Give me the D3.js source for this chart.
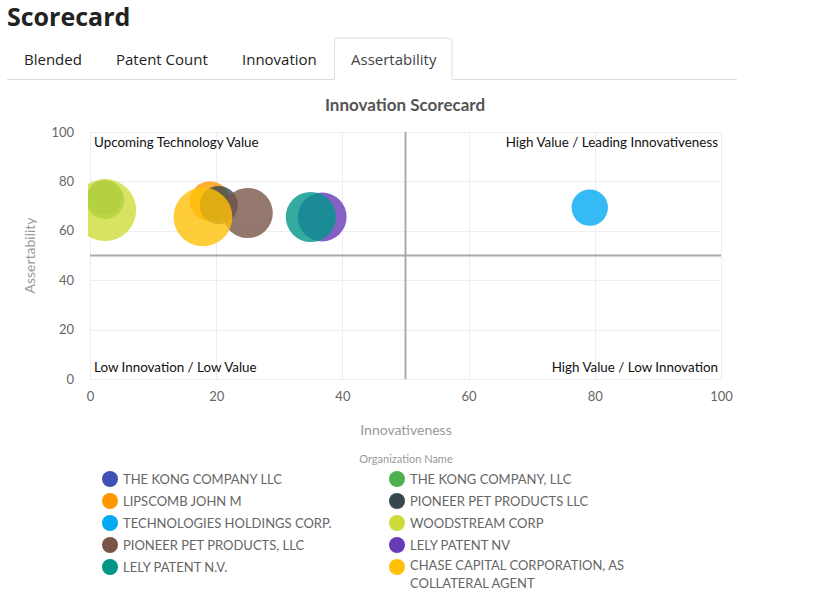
<!DOCTYPE html>
<html><head><meta charset="utf-8">
<script src="https://cdn.jsdelivr.net/npm/d3@7"></script>
<style>
body{margin:0;background:#fff;font-family:"Open Sans",sans-serif;}
svg{display:block;}
</style></head>
<body>
<svg id="c" width="827" height="602"></svg>
<script>
const organizations = ["THE KONG COMPANY LLC","THE KONG COMPANY, LLC","LIPSCOMB JOHN M","PIONEER PET PRODUCTS LLC","TECHNOLOGIES HOLDINGS CORP.","WOODSTREAM CORP","PIONEER PET PRODUCTS, LLC","LELY PATENT NV","LELY PATENT N.V.","CHASE CAPITAL CORPORATION, AS COLLATERAL AGENT"];
const innovativeness = [2.3, 2.4, 19.0, 20.4, 79.2, 2.4, 25.0, 36.8, 35.0, 17.9];
const assertability = [73.5, 72.5, 72.0, 70.4, 69.4, 68.4, 67.2, 65.6, 65.6, 65.6];
const patentCount = [9, 11, 12, 11, 10, 29, 19, 18, 19, 26];
const xTicks = [0,20,40,60,80,100];
const yTicks = [0,20,40,60,80,100];
const tabs = ["Blended","Patent Count","Innovation","Assertability"];
const quadrantLabels = ["Upcoming Technology Value","High Value / Leading Innovativeness","Low Innovation / Low Value","High Value / Low Innovation"];
const palette = ["#3f51b5","#4caf50","#ff9800","#37474f","#03a9f4","#cddc39","#795548","#673ab7","#009688","#ffc107"];

const svg = d3.select("#c");
const F = "'Open Sans', sans-serif";
const SF = "Lato, sans-serif";

// Header
svg.append("text").attr("x",7).attr("y",26).text("Scorecard")
  .attr("font-family",F).attr("font-weight",700).attr("font-size",25).attr("fill","#222");
svg.append("line").attr("x1",7).attr("x2",737).attr("y1",79.5).attr("y2",79.5).attr("stroke","#ddd");
svg.append("path").attr("d","M334.5,79.5 V42 a4,4 0 0 1 4,-4 H448 a4,4 0 0 1 4,4 V79.5")
  .attr("fill","#fff").attr("stroke","#ddd");
svg.append("line").attr("x1",335).attr("x2",452).attr("y1",79.5).attr("y2",79.5).attr("stroke","#fff").attr("stroke-width",1.5);
const tabX = [24,116,242,351];
tabs.forEach((t,i)=>{
  svg.append("text").attr("x",tabX[i]).attr("y",65).text(t)
    .attr("font-family",F).attr("font-size",15).attr("fill", i===3?"#444":"#222");
});

// Chart
const x = d3.scaleLinear().domain([0,100]).range([90,721]);
const y = d3.scaleLinear().domain([0,100]).range([379,132]);
const r = d3.scaleSqrt().domain([0, d3.max(patentCount)]).range([0,31]);
const color = d3.scaleOrdinal().domain(organizations).range(palette);

svg.append("text").attr("x",405).attr("y",111).attr("text-anchor","middle")
  .text("Innovation Scorecard").attr("font-family",SF).attr("font-weight",700)
  .attr("font-size",17).attr("fill","#555");

const grid = svg.append("g");
grid.selectAll(".gx").data(xTicks).join("line")
  .attr("x1",d=>Math.round(x(d))+0.5).attr("x2",d=>Math.round(x(d))+0.5)
  .attr("y1",y(100)).attr("y2",y(0)).attr("stroke","#eee");
grid.selectAll(".gy").data(yTicks).join("line")
  .attr("y1",d=>Math.round(y(d))+0.5).attr("y2",d=>Math.round(y(d))+0.5)
  .attr("x1",x(0)).attr("x2",x(100)).attr("stroke","#eee");

// axes (labels only)
const xAxis = d3.axisBottom(x).tickValues(xTicks).tickSize(0).tickPadding(13);
const gx = svg.append("g").attr("transform",`translate(0,${y(0)})`).call(xAxis);
gx.select(".domain").remove();
gx.selectAll("text").attr("font-family",SF).attr("font-size",13).attr("fill","#666");
const yAxis = d3.axisLeft(y).tickValues(yTicks).tickSize(0).tickPadding(16);
const gy = svg.append("g").attr("transform",`translate(${x(0)},0)`).call(yAxis);
gy.select(".domain").remove();
gy.selectAll("text").attr("font-family",SF).attr("font-size",13).attr("fill","#666");

svg.append("text").attr("x",406).attr("y",435).attr("text-anchor","middle").text("Innovativeness")
  .attr("font-family",SF).attr("font-size",14).attr("fill","#999");
svg.append("text").attr("transform",`translate(35,${y(50)}) rotate(-90)`).attr("text-anchor","middle")
  .text("Assertability").attr("font-family",SF).attr("font-size",14).attr("fill","#999");

// Midlines
svg.append("line").attr("x1",x(0)).attr("x2",x(100)).attr("y1",y(50)).attr("y2",y(50))
  .attr("stroke","#aaa").attr("stroke-width",2);
svg.append("line").attr("x1",x(50)).attr("x2",x(50)).attr("y1",y(100)).attr("y2",y(0))
  .attr("stroke","#aaa").attr("stroke-width",2);

// Quadrant labels
const ql = [[x(0)+4,y(100)+15,"start"],[x(100)-3,y(100)+15,"end"],[x(0)+4,y(0)-7,"start"],[x(100)-3,y(0)-7,"end"]];
quadrantLabels.forEach((t,i)=>{
  svg.append("text").attr("x",ql[i][0]).attr("y",ql[i][1]).attr("text-anchor",ql[i][2]).text(t)
    .attr("font-family",SF).attr("font-size",13.4).attr("fill","#111");
});

// bubbles
svg.append("clipPath").attr("id","clip").append("rect")
  .attr("x",x(0)-2).attr("y",y(100)-2).attr("width",x(100)-x(0)+4).attr("height",y(0)-y(100)+4);
svg.append("g").attr("clip-path","url(#clip)").selectAll("circle")
  .data(organizations).join("circle")
  .attr("cx",(d,i)=>x(innovativeness[i])).attr("cy",(d,i)=>y(assertability[i]))
  .attr("r",(d,i)=>r(patentCount[i])).attr("fill",d=>color(d)).attr("fill-opacity",0.8);

// legend
svg.append("text").attr("x",406).attr("y",463).attr("text-anchor","middle").text("Organization Name")
  .attr("font-family",SF).attr("font-size",11).attr("fill","#999");
const lg = svg.append("g");
organizations.forEach((o,i)=>{
  const col = i%2, row = Math.floor(i/2);
  const cx = col===0?110:397, cy = 479 + row*22;
  lg.append("circle").attr("cx",cx).attr("cy",cy).attr("r",8).attr("fill",color(o));
  const words = o.length>30 ? ["CHASE CAPITAL CORPORATION, AS","COLLATERAL AGENT"] : [o];
  const t = lg.append("text").attr("font-family",SF).attr("font-size",13).attr("fill","#666");
  const y0 = words.length>1 ? cy+3 : cy+5;
  words.forEach((w,j)=>{
    t.append("tspan").attr("x",cx+13).attr("y",y0+j*18).text(w);
  });
});
</script>
</body></html>
